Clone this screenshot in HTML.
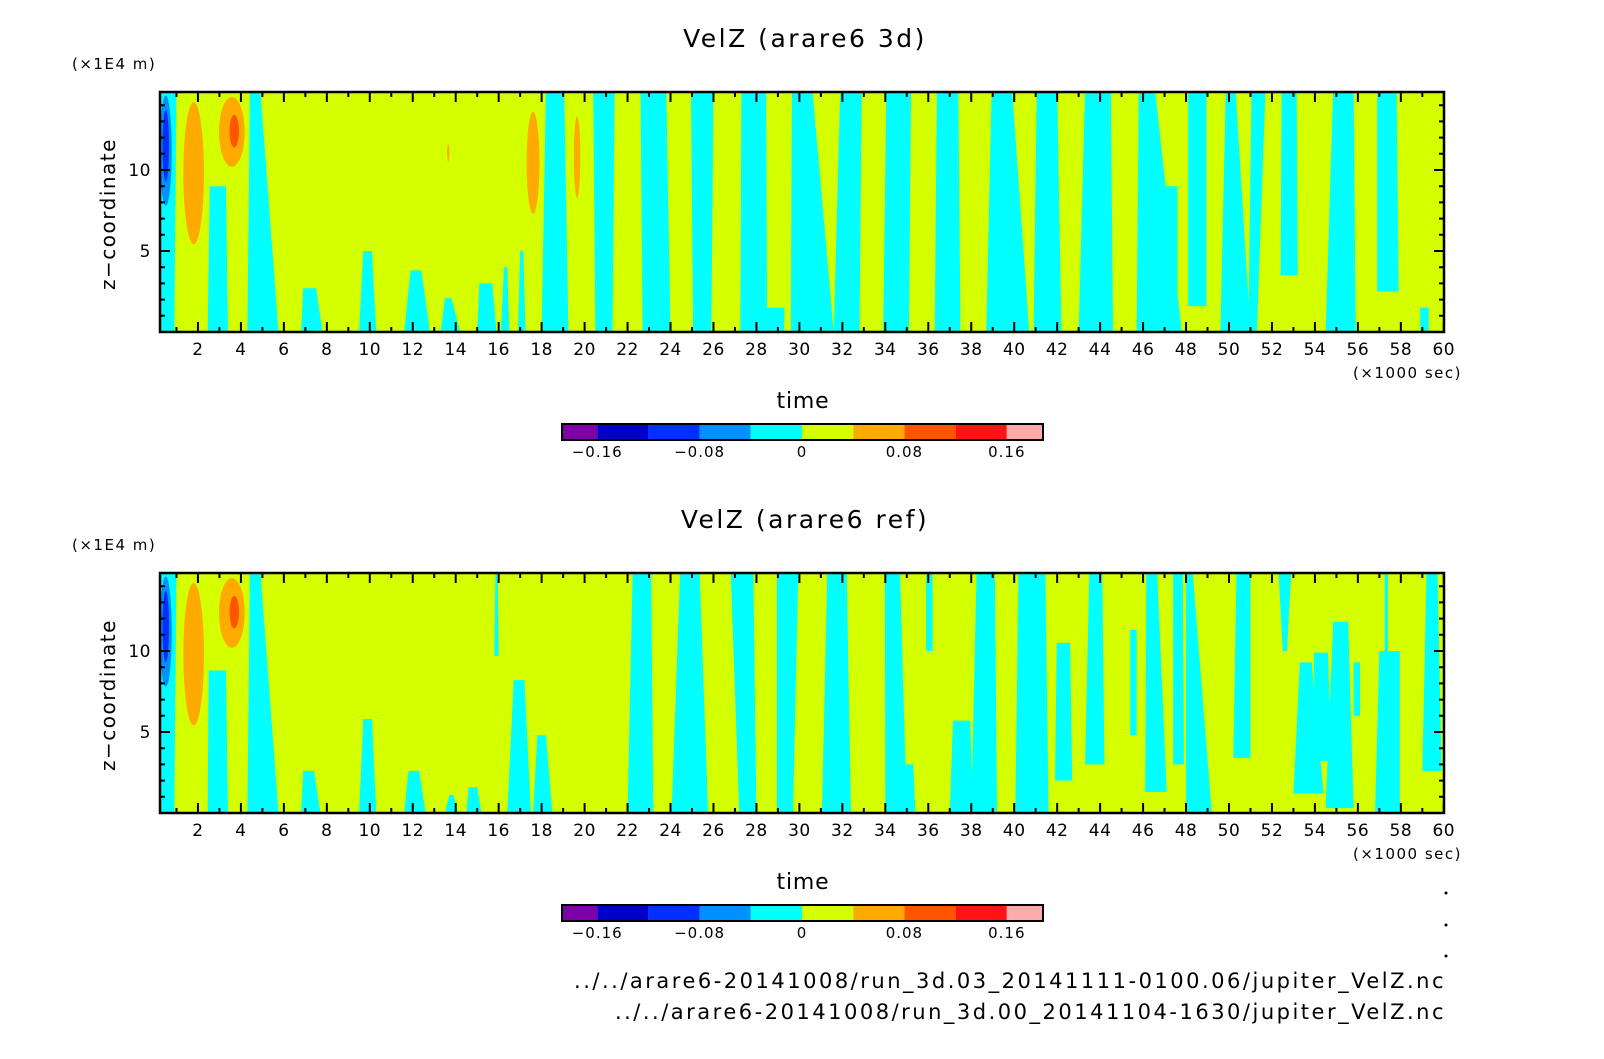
<!DOCTYPE html>
<html><head><meta charset="utf-8"><style>
html,body{margin:0;padding:0;background:#fff;}
svg text{font-family:"DejaVu Sans","Liberation Sans",sans-serif;fill:#000;}
</style></head><body>
<svg id="root" width="1604" height="1054" viewBox="0 0 1604 1054" xmlns="http://www.w3.org/2000/svg"></svg>
<script>
// ---- data ----
const xTicks = [2,4,6,8,10,12,14,16,18,20,22,24,26,28,30,32,34,36,38,40,42,44,46,48,50,52,54,56,58,60];
const yTicks = [5,10];
const cbLevels = [-0.2,-0.16,-0.12,-0.08,-0.04,0,0.04,0.08,0.12,0.16,0.2];
const cbColors = ["#8000a8","#0000c8","#0030ff","#0090ff","#00ffff","#d4ff00","#ffaa00","#ff5500","#ff1414","#ffaaaa"];
const cbTickVals = [-0.16,-0.08,0,0.08,0.16];
const cbTickLabels = ["\u22120.16","\u22120.08","0","0.08","0.16"];
// cyan (negative) bands: [t0 top, t1 top, t0 bottom, t1 bottom, zTop, zBottom]
const cyan3d = [
 [0.22,1.0,0.22,0.9,15,0],[2.55,3.3,2.45,3.4,9,0],[4.42,4.9,4.3,5.75,15,0],
 [6.9,7.5,6.8,7.8,2.7,0],[9.7,10.1,9.5,10.3,5,0],[11.9,12.4,11.6,12.8,3.8,0],
 [13.5,13.8,13.3,14.2,2.1,0],[15.1,15.7,15.0,15.9,3,0],[16.25,16.4,16.1,16.5,4,0],[17.0,17.15,16.9,17.25,5,0],
 [18.2,19.05,18.0,19.25,15,0],[20.4,21.4,20.5,21.3,15,0],[22.6,23.8,22.7,24.0,15,0],
 [24.95,26.0,25.05,25.9,15,0],[27.3,28.45,27.25,28.5,15,0],[28.4,29.3,28.4,29.3,1.5,0],
 [29.65,30.6,29.6,31.6,15,0],[31.9,32.9,31.6,32.8,15,0],[34.05,35.2,33.9,35.1,15,0],
 [36.4,37.4,36.3,37.5,15,0],[38.95,39.9,38.7,40.7,15,0],[41.05,42.0,40.9,42.2,15,0],
 [43.3,44.5,43.0,44.6,15,0],[45.8,46.55,45.7,47.8,15,0],[46.9,47.6,46.8,47.6,9,2],
 [48.1,48.95,48.1,48.95,15,1.6],[49.85,50.3,49.6,51.0,15,0],[51.05,51.7,50.9,51.3,15,0],
 [52.45,53.15,52.4,53.2,15,3.5],[54.85,55.8,54.5,55.9,15,0],[56.9,57.8,56.9,57.9,15,2.5],[58.9,59.3,58.9,59.3,1.5,0]
];
const cyanRef = [
 [0.22,1.0,0.22,0.9,15,0],[2.5,3.3,2.45,3.4,8.8,0],[4.42,4.9,4.3,5.75,15,0],
 [6.9,7.4,6.8,7.7,2.6,0],[9.7,10.1,9.5,10.3,5.8,0],[11.8,12.3,11.6,12.6,2.6,0],
 [13.7,13.9,13.5,14.1,1.1,0],[14.6,15.0,14.5,15.2,1.6,0],[15.85,15.95,15.8,16.0,15,9.7],
 [16.7,17.2,16.4,17.5,8.2,0],[17.8,18.2,17.6,18.5,4.8,0],
 [22.24,23.1,22.0,23.2,15,0],[24.45,25.35,24.05,25.75,15,0],[26.8,27.85,27.2,28.0,15,0],
 [28.95,29.95,28.95,29.7,15,0],[31.3,32.2,31.05,32.4,15,0],[33.98,34.68,34.0,35.0,15,0],
 [34.5,35.3,34.4,35.4,3,0],[35.9,36.2,35.9,36.2,15,10],[37.15,37.95,37.0,38.1,5.7,0],
 [38.25,39.1,38.0,39.2,15,0],[40.2,41.45,40.05,41.6,15,0],[41.98,42.6,41.9,42.7,10.5,2],
 [43.5,44.1,43.3,44.2,15,3],[45.4,45.7,45.4,45.7,11.3,4.8],[46.15,46.65,46.1,47.1,15,1.3],
 [47.4,47.85,47.4,47.9,15,3],[48.0,48.3,48.0,49.2,15,0],[50.35,51.0,50.2,51.0,15,3.4],
 [52.3,52.9,52.5,52.7,15,10],[53.3,53.85,53.0,54.4,9.3,1.2],[53.95,54.6,54.0,54.8,9.9,3.2],
 [54.85,55.55,54.5,55.8,11.8,0.3],[55.8,56.1,55.8,56.1,9.3,6],[57.0,57.95,56.8,57.95,10,0],
 [57.25,57.4,57.25,57.4,15,10],[59.2,59.7,59.0,59.9,15,2.6]
];
// blobs: [t center, z center, t radius, z radius, colour index]
const blobs3d = [[0.5,11.2,0.28,3.4,3],[0.5,11.5,0.15,2.2,2],[1.8,9.8,0.48,4.4,6],[3.58,12.35,0.6,2.15,6],[3.69,12.4,0.22,1.0,7],[17.6,10.45,0.3,3.15,6],[19.65,10.8,0.15,2.5,6],[13.65,11.05,0.05,0.55,6]];
const blobsRef = [[0.5,11.2,0.28,3.4,3],[0.5,11.5,0.15,2.2,2],[1.8,9.8,0.48,4.4,6],[3.58,12.35,0.6,2.15,6],[3.69,12.4,0.22,1.0,7]];

const NS="http://www.w3.org/2000/svg";
const root=document.getElementById('root');
function el(tag,attrs,parent){const e=document.createElementNS(NS,tag);for(const k in attrs)e.setAttribute(k,attrs[k]);(parent||root).appendChild(e);return e;}
function txt(s,x,y,size,anchor,parent,ls){const t=el('text',{x:x,y:y,'font-size':size,'text-anchor':anchor||'middle'},parent);if(ls)t.setAttribute('letter-spacing',ls);t.textContent=s;return t;}

const X0=160,X1=1444;
function xs(t){return 155+21.48*t;}

function panel(id,top,title,cyan,blobs){
  const bottom=top+240;
  const zs=z=>bottom-16.2*z;
  const g=el('g',{});
  
  
  const tt=txt(title,805,top-45,25,'middle',g,2.5);
  
  
  const un=txt('(\u00d71E4 m)',72,top-23,15,'start',g,1.5);
  
  
  const yl=txt('z\u2212coordinate',0,0,20,'middle',g,1.5);
  yl.setAttribute('transform','translate(115,'+(top+122)+') rotate(-90)');
  
  
  const clip=el('clipPath',{id:'clip-'+id},g);
  el('rect',{x:X0,y:top,width:X1-X0,height:240},clip);
  const field=el('g',{'clip-path':'url(#clip-'+id+')'},g);
  
  
  const bg=el('rect',{x:X0,y:top,width:X1-X0,height:240,fill:cbColors[5]},field);
  
  
  cyan.forEach(b=>{
    const zt=Math.min(b[4],15),zb=b[5];
    const pts=[[xs(b[0]),zs(zt)],[xs(b[1]),zs(zt)],[xs(b[3]),zs(zb)],[xs(b[2]),zs(zb)]];
    const p=el('polygon',{points:pts.map(q=>q.join(',')).join(' '),fill:cbColors[4]},field);
    
    
  });
  blobs.forEach(b=>{
    const e=el('ellipse',{cx:xs(b[0]),cy:zs(b[1]),rx:b[2]*21.48,ry:b[3]*16.2,fill:cbColors[b[4]]},field);
    
    
  });
  const fr=el('rect',{x:X0,y:top,width:X1-X0,height:240,fill:'none',stroke:'#000','stroke-width':2.5},g);
  
  
  let d='';
  for(let t=1;t<=60;t++){const x=xs(t);if(x<X0)continue;const L=(t%2===0)?10:5;d+=`M${x},${bottom}v${-L}M${x},${top}v${L}`;}
  for(let z=1;z<=14;z++){const y=zs(z);const L=(z%5===0)?10:5;d+=`M${X0},${y}h${L}M${X1},${y}h${-L}`;}
  const tk=el('path',{d:d,stroke:'#000','stroke-width':2,fill:'none'},g);
  
  
  xTicks.forEach(t=>{const l=txt(String(t),xs(t),bottom+23,17,'middle',g,0.5);
    
    });
  yTicks.forEach(z=>{const l=txt(String(z),151,zs(z)+6,17,'end',g,0.5);
    
    });
  const xu=txt('(\u00d71000 sec)',1462,bottom+46,15,'end',g,1.5);
  
  
  const xt=txt('time',803,bottom+76,22,'middle',g,0.8);
  
  
  // colorbar
  const cy=bottom+92;
  const cb=el('g',{},g);
  
  
  const cx=v=>802+(v/0.04)*51.2;
  for(let i=0;i<cbColors.length;i++){
    const a=Math.max(cx(cbLevels[i]),562),b=Math.min(cx(cbLevels[i+1]),1043);
    const r=el('rect',{x:a,y:cy,width:b-a,height:16,fill:cbColors[i]},cb);
    
    
  }
  el('rect',{x:562,y:cy,width:481,height:16,fill:'none',stroke:'#000','stroke-width':2},cb);
  cbTickVals.forEach((v,i)=>{const l=txt(cbTickLabels[i],cx(v),cy+33,15,'middle',cb,1);
    
    });
}
panel('panel-3d',92,'VelZ (arare6 3d)',cyan3d,blobs3d);
panel('panel-ref',573,'VelZ (arare6 ref)',cyanRef,blobsRef);

const f1=txt('../../arare6-20141008/run_3d.03_20141111-0100.06/jupiter_VelZ.nc',1446,988,21,'end',null,2.5);


const f2=txt('../../arare6-20141008/run_3d.00_20141104-1630/jupiter_VelZ.nc',1446,1019,21,'end',null,2.5);


[893,925,956].forEach(y=>{const c=el('circle',{cx:1446,cy:y,r:1.5,fill:'#000'});
  
  });
</script>
</body></html>
